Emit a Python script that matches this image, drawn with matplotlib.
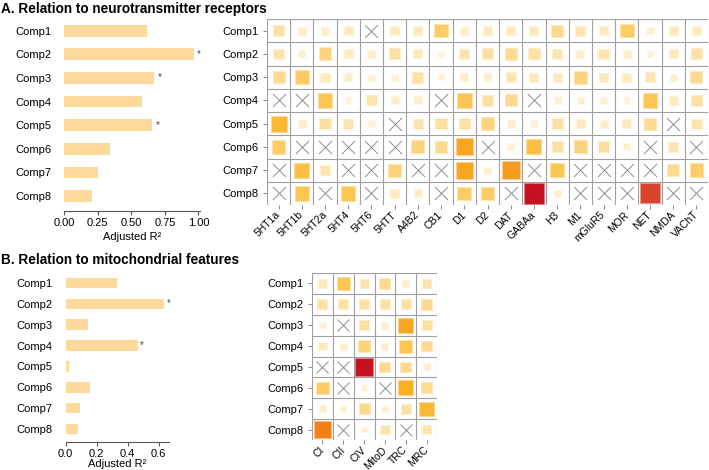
import numpy as np
import matplotlib.pyplot as plt
from matplotlib.colors import LinearSegmentedColormap, to_rgb
from matplotlib.patches import Rectangle
from matplotlib.transforms import ScaledTranslation

plt.rcParams['font.family'] = ['Liberation Sans', 'DejaVu Sans']

comps = ['Comp1', 'Comp2', 'Comp3', 'Comp4', 'Comp5', 'Comp6', 'Comp7', 'Comp8']
receptors = ['5HT1a', '5HT1b', '5HT2a', '5HT4', '5HT6', '5HTT', 'A4B2', 'CB1', 'D1', 'D2',
             'DAT', 'GABAa', 'H3', 'M1', 'mGluR5', 'MOR', 'NET', 'NMDA', 'VAChT']
mito = ['CI', 'CII', 'CIV', 'MitoD', 'TRC', 'MRC']

# adjusted R2 per component
r2_receptors = [0.617, 0.966, 0.669, 0.582, 0.654, 0.341, 0.250, 0.206]
sig_receptors = [False, True, True, False, True, False, False, False]
r2_mito = [0.33, 0.635, 0.145, 0.465, 0.02, 0.16, 0.093, 0.08]
sig_mito = [False, True, False, True, False, False, False, False]

# heatmap values (nan = crossed out)
nan = np.nan
receptor_vals = np.array([
    [0.30, 0.15, 0.15, 0.20, nan, 0.20, 0.20, 0.45, 0.15, 0.20, 0.20, 0.20, 0.35, 0.25, 0.20, 0.45, 0.12, 0.20, 0.20],
    [0.25, 0.12, 0.40, 0.20, 0.15, 0.30, 0.20, 0.10, 0.25, 0.30, 0.35, 0.30, 0.25, 0.15, 0.25, 0.15, 0.10, 0.20, 0.30],
    [0.35, 0.45, 0.20, 0.15, 0.12, 0.12, 0.30, 0.10, 0.15, 0.15, 0.25, 0.20, 0.20, 0.40, 0.20, 0.20, 0.25, 0.12, 0.35],
    [nan, nan, 0.50, 0.10, 0.25, 0.15, 0.15, nan, 0.50, 0.30, 0.35, nan, 0.12, 0.12, 0.12, 0.10, 0.50, 0.20, 0.30],
    [0.60, 0.15, 0.30, 0.25, 0.10, nan, 0.25, 0.30, 0.30, 0.40, 0.15, 0.10, 0.30, 0.20, 0.15, 0.20, 0.35, nan, 0.25],
    [0.45, nan, nan, nan, nan, nan, 0.40, 0.35, 0.70, nan, 0.12, 0.55, 0.30, 0.40, 0.30, 0.12, nan, 0.25, nan],
    [nan, 0.55, 0.25, nan, nan, 0.40, nan, nan, 0.70, 0.12, 0.75, nan, 0.50, nan, nan, nan, nan, 0.35, 0.45],
    [nan, 0.50, nan, 0.50, nan, 0.20, 0.15, nan, 0.45, 0.45, nan, 1.00, 0.12, nan, nan, nan, 0.95, nan, nan],
])
mito_vals = np.array([
    [0.20, 0.50, 0.25, 0.35, 0.15, 0.25],
    [0.30, 0.30, 0.30, 0.30, 0.30, 0.35],
    [0.12, nan, 0.30, 0.15, 0.70, 0.30],
    [0.20, 0.15, 0.40, 0.15, 0.50, 0.35],
    [nan, nan, 1.00, 0.35, 0.35, 0.15],
    [0.45, nan, 0.12, nan, 0.65, 0.35],
    [0.15, 0.12, 0.35, 0.12, 0.30, 0.60],
    [0.85, nan, 0.10, 0.25, nan, 0.25],
])

W, H = 709, 470
BAR_COLOR = '#fdd99b'
GRID_COLOR = '#a0a0a0'

cmap = LinearSegmentedColormap.from_list('sq', [
    (0.0, '#fff6e2'), (0.15, '#feedc8'), (0.3, '#fde0a2'), (0.5, '#fdc654'),
    (0.65, '#fbb024'), (0.78, '#f4961f'), (0.87, '#f37a12'), (0.95, '#d8472a'),
    (1.0, '#c4101f')])

fig = plt.figure(figsize=(W / 100, H / 100), dpi=100)


def px_axes(left, top, right, bottom):
    return fig.add_axes([left / W, 1 - bottom / H, (right - left) / W, (bottom - top) / H])


def draw_bars(ax, vals, sig, xmax, ticks, ticklabels):
    y = np.arange(len(comps))
    ax.barh(y, vals, height=0.5, color=BAR_COLOR)
    for i, (v, s) in enumerate(zip(vals, sig)):
        if s:
            ax.text(v + xmax * 0.025, i - 0.02, '*', fontsize=7, color='#444444',
                    va='center', ha='left')
    ax.set_xlim(0, xmax)
    ax.set_ylim(len(comps) - 1 + 0.62, -0.62)
    ax.set_yticks(y)
    ax.set_yticklabels(comps, fontsize=8)
    ax.tick_params(axis='y', length=0, pad=9.5)
    ax.set_xticks(ticks)
    ax.set_xticklabels(ticklabels, fontsize=8)
    ax.tick_params(axis='x', length=3, color='#555555', width=0.8, pad=2)
    for side in ['top', 'right', 'left']:
        ax.spines[side].set_visible(False)
    ax.spines['bottom'].set_color('#555555')
    ax.spines['bottom'].set_linewidth(0.8)
    ax.set_xlabel('Adjusted R\u00b2', fontsize=8, labelpad=3)


def draw_grid(ax, vals, cols, xsize):
    nr, nc = vals.shape
    ax.set_xlim(-0.5, nc - 0.5)
    ax.set_ylim(nr - 0.5, -0.5)
    for k in range(nc + 1):
        ax.axvline(k - 0.5, color=GRID_COLOR, lw=0.8)
    for k in range(nr + 1):
        ax.axhline(k - 0.5, color=GRID_COLOR, lw=0.8)
    for i in range(nr):
        for j in range(nc):
            v = vals[i, j]
            if np.isnan(v):
                continue
            side = 0.88 * np.sqrt(v)
            fc = np.array(to_rgb(cmap(v)))
            ec = fc + (1 - fc) * 0.45
            ax.add_patch(Rectangle((j - side / 2, i - side / 2), side, side,
                                   facecolor=fc, edgecolor=ec, lw=0.8))
    ri, cj = np.where(np.isnan(vals))
    ax.scatter(cj, ri, marker='x', s=xsize, color='#8c8c8c', linewidths=0.7)
    for s in ax.spines.values():
        s.set_visible(False)
    ax.set_xticks(np.arange(nc))
    ax.set_xticklabels(cols, fontsize=7.5, rotation=45, ha='right', va='center',
                       rotation_mode='anchor')
    shift = ScaledTranslation(3 / 100, 0, fig.dpi_scale_trans)
    for lbl in ax.get_xticklabels():
        lbl.set_transform(lbl.get_transform() + shift)
    ax.set_yticks(np.arange(nr))
    ax.set_yticklabels(comps, fontsize=8)
    ax.tick_params(length=3, color='#888888', width=0.7, pad=3)
    ax.tick_params(axis='x', pad=3)


fig.text(1 / W, 1 - 9 / H, 'A. Relation to neurotransmitter receptors', fontsize=9.8,
         fontweight='bold', va='center', ha='left')
fig.text(1 / W, 1 - 260 / H, 'B. Relation to mitochondrial features', fontsize=9.8,
         fontweight='bold', va='center', ha='left')

ax1 = px_axes(64.3, 16, 199.7, 210.7)
draw_bars(ax1, r2_receptors, sig_receptors, 1.01,
          [0, 0.25, 0.5, 0.75, 1.0], ['0.00', '0.25', '0.50', '0.75', '1.00'])

ax2 = px_axes(267, 19, 708, 205)
draw_grid(ax2, receptor_vals, receptors, 88)

ax3 = px_axes(65.7, 270, 169, 442)
draw_bars(ax3, r2_mito, sig_mito, 0.667,
          [0, 0.2, 0.4, 0.6], ['0.0', '0.2', '0.4', '0.6'])
ax3.xaxis.labelpad = 0

ax4 = px_axes(312, 273, 437, 440)
draw_grid(ax4, mito_vals, mito, 75)

fig.savefig('out.png', dpi=100)
